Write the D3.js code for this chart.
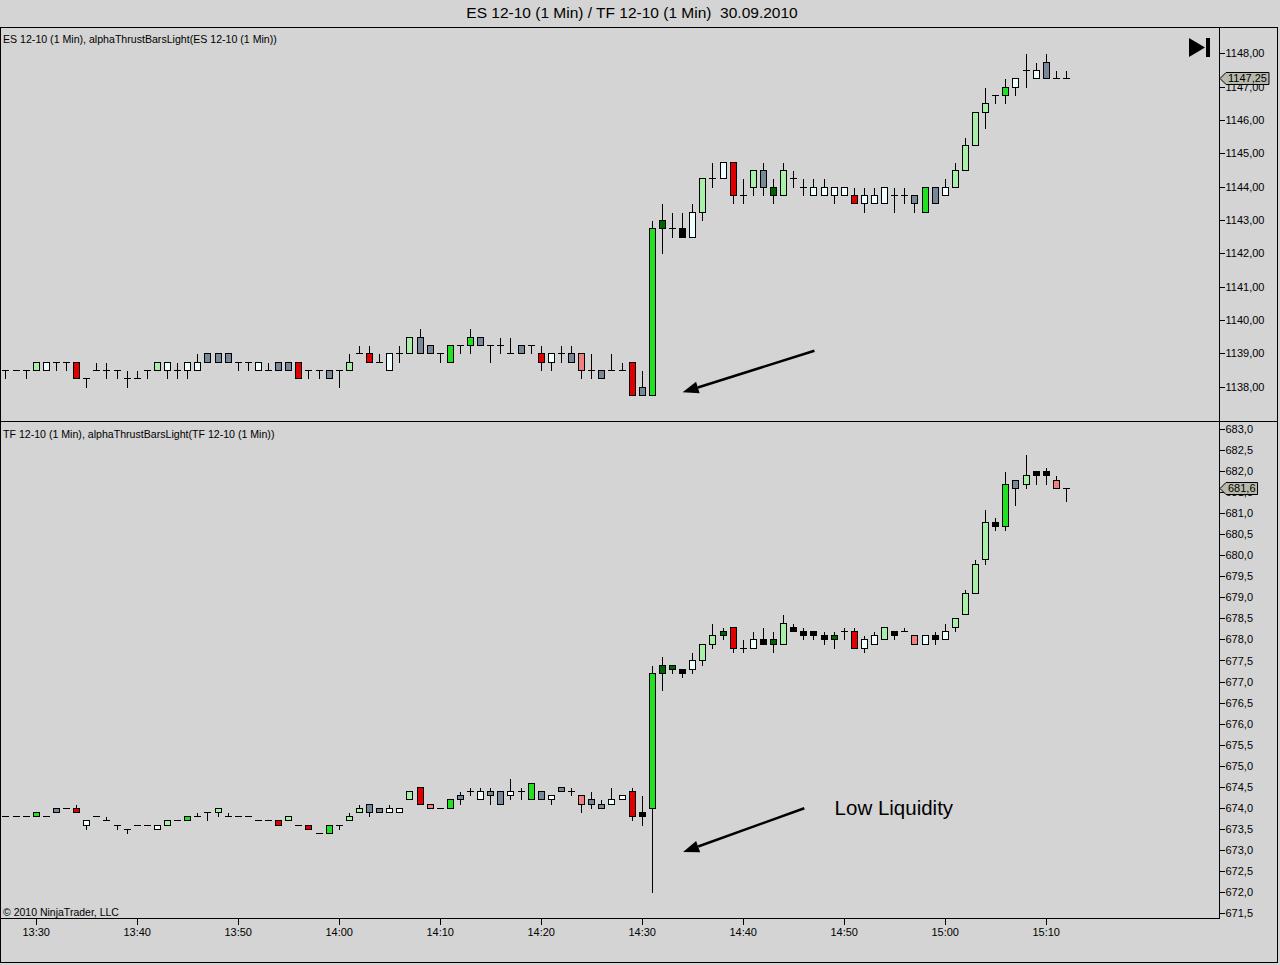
<!DOCTYPE html>
<html>
<head>
<meta charset="utf-8">
<script src="https://cdn.jsdelivr.net/npm/d3@7"></script>
<style>
  html, body { margin: 0; padding: 0; background: #d4d4d4; }
  svg { display: block; font-family: "Liberation Sans", Arial, sans-serif; }
</style>
</head>
<body>
<div id="chart"></div>
<script>
// minute bars, 13:27 .. 15:12
const minutes = [
  "13:27","13:28","13:29",
  "13:30","13:31","13:32","13:33","13:34","13:35","13:36","13:37","13:38","13:39",
  "13:40","13:41","13:42","13:43","13:44","13:45","13:46","13:47","13:48","13:49",
  "13:50","13:51","13:52","13:53","13:54","13:55","13:56","13:57","13:58","13:59",
  "14:00","14:01","14:02","14:03","14:04","14:05","14:06","14:07","14:08","14:09",
  "14:10","14:11","14:12","14:13","14:14","14:15","14:16","14:17","14:18","14:19",
  "14:20","14:21","14:22","14:23","14:24","14:25","14:26","14:27","14:28","14:29",
  "14:30","14:31","14:32","14:33","14:34","14:35","14:36","14:37","14:38","14:39",
  "14:40","14:41","14:42","14:43","14:44","14:45","14:46","14:47","14:48","14:49",
  "14:50","14:51","14:52","14:53","14:54","14:55","14:56","14:57","14:58","14:59",
  "15:00","15:01","15:02","15:03","15:04","15:05","15:06","15:07","15:08","15:09",
  "15:10","15:11","15:12"
];

// [open, high, low, close, thrust state]   state "-" = doji (drawn as a line)
const esBars = [
  [1138.5,1138.5,1138.25,1138.5,"-"],[1138.5,1138.5,1138.5,1138.5,"-"],[1138.5,1138.5,1138.25,1138.5,"-"],
  [1138.5,1138.75,1138.5,1138.75,"L"],[1138.5,1138.75,1138.5,1138.75,"W"],[1138.75,1138.75,1138.5,1138.75,"-"],
  [1138.75,1138.75,1138.5,1138.75,"-"],[1138.75,1138.75,1138.25,1138.25,"R"],[1138.25,1138.25,1138.0,1138.25,"-"],
  [1138.5,1138.75,1138.5,1138.5,"-"],[1138.5,1138.75,1138.25,1138.5,"-"],[1138.5,1138.5,1138.25,1138.5,"-"],
  [1138.25,1138.5,1138.0,1138.25,"-"],[1138.25,1138.5,1138.25,1138.25,"-"],[1138.5,1138.5,1138.25,1138.5,"-"],
  [1138.5,1138.75,1138.5,1138.75,"L"],[1138.5,1138.75,1138.25,1138.75,"W"],[1138.5,1138.75,1138.25,1138.5,"-"],
  [1138.5,1138.75,1138.25,1138.75,"W"],[1138.5,1139.0,1138.5,1138.75,"W"],[1138.75,1139.0,1138.75,1139.0,"S"],
  [1138.75,1139.0,1138.75,1139.0,"S"],[1139.0,1139.0,1138.75,1138.75,"S"],[1138.75,1138.75,1138.5,1138.75,"-"],
  [1138.75,1138.75,1138.5,1138.75,"-"],[1138.5,1138.75,1138.5,1138.75,"W"],[1138.5,1138.75,1138.5,1138.5,"-"],
  [1138.75,1138.75,1138.5,1138.5,"S"],[1138.75,1138.75,1138.5,1138.5,"S"],[1138.75,1138.75,1138.25,1138.25,"R"],
  [1138.5,1138.5,1138.25,1138.5,"-"],[1138.5,1138.5,1138.25,1138.5,"-"],[1138.5,1138.5,1138.25,1138.25,"S"],
  [1138.5,1138.5,1138.0,1138.5,"-"],[1138.5,1139.0,1138.5,1138.75,"L"],[1139.0,1139.25,1139.0,1139.0,"-"],
  [1139.0,1139.25,1138.75,1138.75,"R"],[1138.75,1139.0,1138.75,1138.75,"-"],[1138.5,1139.0,1138.5,1139.0,"W"],
  [1139.0,1139.25,1138.75,1139.0,"-"],[1139.0,1139.5,1139.0,1139.5,"L"],[1139.5,1139.75,1139.0,1139.0,"S"],
  [1139.25,1139.25,1139.0,1139.0,"S"],[1139.0,1139.0,1138.75,1139.0,"-"],[1138.75,1139.25,1138.75,1139.25,"G"],
  [1139.25,1139.25,1139.0,1139.25,"-"],[1139.25,1139.75,1139.0,1139.5,"G"],[1139.5,1139.5,1139.25,1139.25,"S"],
  [1139.25,1139.25,1138.75,1139.25,"-"],[1139.25,1139.5,1139.0,1139.25,"-"],[1139.0,1139.5,1139.0,1139.0,"-"],
  [1139.25,1139.25,1139.0,1139.0,"S"],[1139.25,1139.25,1139.0,1139.25,"-"],[1139.0,1139.25,1138.5,1138.75,"R"],
  [1138.75,1139.0,1138.5,1139.0,"W"],[1139.0,1139.25,1138.75,1139.0,"-"],[1139.0,1139.25,1138.75,1138.75,"S"],
  [1139.0,1139.0,1138.25,1138.5,"P"],[1138.5,1139.0,1138.25,1138.5,"-"],[1138.5,1138.5,1138.25,1138.25,"S"],
  [1138.5,1139.0,1138.5,1138.5,"-"],[1138.5,1138.75,1138.5,1138.5,"-"],[1138.75,1138.75,1137.75,1137.75,"R"],
  [1138.0,1138.5,1137.75,1137.75,"S"],[1137.75,1143.0,1137.75,1142.75,"G"],[1142.75,1143.5,1142.0,1143.0,"D"],
  [1142.75,1143.25,1142.5,1142.75,"-"],[1142.75,1143.25,1142.5,1142.5,"K"],[1142.5,1143.5,1142.5,1143.25,"W"],
  [1143.25,1144.25,1143.0,1144.25,"L"],[1144.25,1144.75,1144.0,1144.25,"-"],[1144.25,1144.75,1144.25,1144.75,"W"],
  [1144.75,1144.75,1143.5,1143.75,"R"],[1143.75,1144.25,1143.5,1143.75,"-"],[1144.0,1144.5,1143.75,1144.5,"L"],
  [1144.5,1144.75,1143.75,1144.0,"S"],[1143.75,1144.25,1143.5,1144.0,"D"],[1143.75,1144.75,1143.75,1144.5,"L"],
  [1144.25,1144.5,1144.0,1144.25,"-"],[1144.0,1144.25,1143.75,1144.0,"-"],[1143.75,1144.25,1143.75,1144.0,"W"],
  [1143.75,1144.25,1143.75,1144.0,"W"],[1143.75,1144.0,1143.5,1144.0,"W"],[1143.75,1144.0,1143.75,1144.0,"W"],
  [1143.75,1144.0,1143.5,1143.5,"R"],[1143.5,1144.0,1143.25,1143.75,"W"],[1143.5,1144.0,1143.5,1143.75,"W"],
  [1143.5,1144.0,1143.5,1144.0,"W"],[1143.75,1144.0,1143.25,1143.75,"-"],[1143.75,1144.0,1143.5,1143.75,"-"],
  [1143.75,1143.75,1143.25,1143.5,"S"],[1143.25,1144.0,1143.25,1144.0,"G"],[1144.0,1144.0,1143.5,1143.5,"S"],
  [1143.75,1144.25,1143.75,1144.0,"W"],[1144.0,1144.75,1144.0,1144.5,"L"],[1144.5,1145.5,1144.5,1145.25,"L"],
  [1145.25,1146.25,1145.25,1146.25,"L"],[1146.25,1147.0,1145.75,1146.5,"L"],[1146.75,1146.75,1146.5,1146.75,"-"],
  [1146.75,1147.25,1146.5,1147.0,"G"],[1147.0,1147.25,1146.75,1147.25,"W"],[1147.5,1148.0,1147.0,1147.5,"-"],
  [1147.25,1147.75,1147.25,1147.5,"W"],[1147.75,1148.0,1147.25,1147.25,"S"],[1147.25,1147.5,1147.25,1147.25,"-"],
  [1147.25,1147.5,1147.25,1147.25,"-"]
];

const tfBars = [
  [673.8,673.8,673.8,673.8,"-"],[673.8,673.8,673.8,673.8,"-"],[673.8,673.8,673.8,673.8,"-"],
  [673.8,673.9,673.8,673.9,"G"],[673.8,673.8,673.8,673.8,"-"],[674.0,674.0,673.9,673.9,"S"],
  [674.0,674.0,674.0,674.0,"-"],[674.0,674.1,673.9,673.9,"R"],[673.7,673.7,673.5,673.6,"W"],
  [673.8,673.8,673.8,673.8,"-"],[673.7,673.8,673.7,673.7,"-"],[673.6,673.6,673.5,673.6,"-"],
  [673.5,673.5,673.4,673.5,"-"],[673.6,673.6,673.6,673.6,"-"],[673.6,673.6,673.6,673.6,"-"],
  [673.5,673.6,673.5,673.6,"W"],[673.6,673.7,673.6,673.7,"L"],[673.7,673.7,673.7,673.7,"-"],
  [673.7,673.8,673.7,673.8,"G"],[673.8,673.9,673.8,673.8,"-"],[673.9,673.9,673.7,673.9,"-"],
  [673.9,674.0,673.8,674.0,"L"],[673.8,673.9,673.8,673.8,"-"],[673.8,673.8,673.8,673.8,"-"],
  [673.8,673.8,673.8,673.8,"-"],[673.7,673.7,673.7,673.7,"-"],[673.7,673.7,673.7,673.7,"-"],
  [673.7,673.7,673.6,673.6,"R"],[673.7,673.8,673.7,673.8,"L"],[673.6,673.6,673.6,673.6,"-"],
  [673.6,673.6,673.5,673.5,"R"],[673.4,673.4,673.4,673.4,"-"],[673.4,673.6,673.4,673.6,"G"],
  [673.6,673.6,673.5,673.6,"-"],[673.7,673.9,673.7,673.8,"L"],[673.9,674.1,673.9,674.0,"L"],
  [674.1,674.1,673.8,673.9,"S"],[674.0,674.0,673.9,673.9,"S"],[673.9,674.1,673.9,674.0,"W"],
  [673.9,674.0,673.9,674.0,"W"],[674.2,674.4,674.2,674.4,"L"],[674.5,674.5,674.1,674.1,"R"],
  [674.1,674.1,674.0,674.0,"P"],[674.0,674.0,674.0,674.0,"-"],[674.0,674.2,674.0,674.2,"G"],
  [674.3,674.4,674.1,674.2,"S"],[674.4,674.5,674.3,674.4,"-"],[674.2,674.5,674.2,674.4,"W"],
  [674.4,674.5,674.1,674.3,"S"],[674.4,674.4,674.1,674.1,"S"],[674.3,674.7,674.2,674.4,"W"],
  [674.4,674.5,674.2,674.4,"-"],[674.2,674.6,674.2,674.6,"G"],[674.4,674.4,674.2,674.2,"S"],
  [674.2,674.3,674.1,674.3,"W"],[674.5,674.5,674.4,674.4,"S"],[674.4,674.5,674.3,674.4,"-"],
  [674.3,674.3,673.9,674.1,"P"],[674.2,674.4,674.0,674.1,"S"],[674.1,674.2,674.0,674.0,"S"],
  [674.1,674.5,674.1,674.2,"W"],[674.2,674.3,674.2,674.3,"W"],[674.4,674.5,673.7,673.8,"R"],
  [673.9,674.3,673.6,673.8,"K"],[674.0,677.4,672.0,677.2,"G"],[677.2,677.6,676.8,677.4,"D"],
  [677.3,677.4,677.2,677.4,"D"],[677.3,677.3,677.1,677.2,"K"],[677.3,677.7,677.2,677.5,"W"],
  [677.5,677.9,677.4,677.9,"L"],[677.9,678.4,677.8,678.1,"L"],[678.1,678.3,678.0,678.2,"D"],
  [678.3,678.3,677.7,677.8,"R"],[677.8,678.0,677.7,677.8,"-"],[677.8,678.2,677.8,678.0,"W"],
  [678.0,678.3,677.9,677.9,"K"],[677.9,678.2,677.7,678.0,"D"],[677.9,678.6,677.9,678.4,"L"],
  [678.3,678.4,678.2,678.2,"K"],[678.2,678.3,678.0,678.1,"K"],[678.2,678.2,678.0,678.1,"K"],
  [678.1,678.2,677.9,678.0,"K"],[678.0,678.2,677.8,678.1,"D"],[678.2,678.3,678.0,678.2,"-"],
  [678.2,678.3,677.8,677.8,"R"],[677.8,678.1,677.7,678.0,"W"],[677.9,678.2,677.9,678.1,"W"],
  [678.0,678.3,678.0,678.3,"L"],[678.2,678.2,678.0,678.1,"K"],[678.2,678.3,678.2,678.2,"-"],
  [678.1,678.1,677.9,677.9,"P"],[677.9,678.1,677.9,678.1,"W"],[678.1,678.2,677.9,678.0,"K"],
  [678.0,678.4,678.0,678.2,"W"],[678.3,678.5,678.2,678.5,"L"],[678.6,679.2,678.6,679.1,"L"],
  [679.1,679.9,679.1,679.8,"L"],[679.9,681.1,679.8,680.8,"L"],[680.8,680.9,680.6,680.7,"K"],
  [680.7,682.0,680.6,681.7,"G"],[681.8,681.8,681.2,681.6,"S"],[681.7,682.4,681.6,681.9,"L"],
  [681.9,682.0,681.7,682.0,"K"],[681.9,682.1,681.7,682.0,"K"],[681.8,681.9,681.6,681.6,"P"],
  [681.6,681.6,681.3,681.6,"-"]
];

const timeTicks = ["13:30","13:40","13:50","14:00","14:10","14:20","14:30","14:40","14:50","15:00","15:10"];
const esTicks = [1138,1139,1140,1141,1142,1143,1144,1145,1146,1147,1148];
const tfTicks = [671.5,672,672.5,673,673.5,674,674.5,675,675.5,676,676.5,677,677.5,678,678.5,679,679.5,680,680.5,681,681.5,682,682.5,683];
const esLast = 1147.25;
const tfLast = 681.6;

const stateFill = {
  G: "#22e022", L: "#a8f0a8", D: "#006400", W: "#f0ffff",
  S: "#778899", R: "#e00000", P: "#f08080", K: "#000000"
};

const width = 1280, height = 965;
const plotRight = 1219;

const parse = d3.timeParse("%H:%M");
const x = d3.scaleTime().domain([parse("13:30"), parse("15:10")]).range([35.7, 1045.7]);
const yES = d3.scaleLinear().domain([1138, 1148]).range([386.7, 53.3]);
const yTF = d3.scaleLinear().domain([671.5, 683]).range([913, 429]);

const de = d3.formatLocale({decimal: ",", thousands: ".", grouping: [3], currency: ["", ""]});

const svg = d3.select("#chart").append("svg")
    .attr("width", width)
    .attr("height", height);

svg.append("rect").attr("width", width).attr("height", height).attr("fill", "#d4d4d4");

// titre
svg.append("text")
    .attr("x", 632).attr("y", 18)
    .attr("text-anchor", "middle")
    .attr("font-size", 15.5)
    .style("white-space", "pre")
    .text("ES 12-10 (1 Min) / TF 12-10 (1 Min)\u00a0 30.09.2010");

// cadres
const frame = svg.append("g").attr("stroke", "#000").attr("shape-rendering", "crispEdges").attr("fill", "none");
frame.append("rect").attr("x", 0.5).attr("y", 27.5).attr("width", 1277).attr("height", 935);
frame.append("line").attr("x1", 0).attr("x2", 1278).attr("y1", 421.5).attr("y2", 421.5);
frame.append("line").attr("x1", 0).attr("x2", plotRight).attr("y1", 918.5).attr("y2", 918.5);
frame.append("line").attr("x1", plotRight + 0.5).attr("x2", plotRight + 0.5).attr("y1", 27).attr("y2", 919);

function drawPanel(bars, y, fmt, ticks, last, label, top) {
  const g = svg.append("g").attr("shape-rendering", "crispEdges");

  g.append("text")
      .attr("x", 3).attr("y", top + 16)
      .attr("font-size", 10.6)
      .attr("shape-rendering", "auto")
      .text(label);

  const bar = g.selectAll("g.bar")
    .data(bars)
    .join("g")
      .attr("class", "bar")
      .attr("transform", (d, i) => "translate(" + Math.round(x(parse(minutes[i]))) + ",0)");

  // meches
  bar.append("line")
      .attr("x1", 0.5).attr("x2", 0.5)
      .attr("y1", d => Math.round(y(d[1])) + 0.5)
      .attr("y2", d => Math.round(y(d[2])) + 0.5)
      .attr("stroke", "#000");

  // doji
  bar.filter(d => d[4] === "-").append("line")
      .attr("x1", -3).attr("x2", 4)
      .attr("y1", d => Math.round(y(d[3])) + 0.5)
      .attr("y2", d => Math.round(y(d[3])) + 0.5)
      .attr("stroke", "#000");

  // corps
  bar.filter(d => d[4] !== "-").append("rect")
      .attr("x", -2.5).attr("width", 6)
      .attr("y", d => Math.round(y(Math.max(d[0], d[3]))) + 0.5)
      .attr("height", d => Math.max(1, Math.round(y(Math.min(d[0], d[3]))) - Math.round(y(Math.max(d[0], d[3])))))
      .attr("fill", d => stateFill[d[4]])
      .attr("stroke", "#000");

  // axe des prix
  const ax = svg.append("g")
      .attr("transform", "translate(" + (plotRight + 0.5) + ",0)")
      .call(d3.axisRight(y).tickValues(ticks).tickSize(5).tickPadding(1).tickFormat(fmt));
  ax.select(".domain").remove();
  ax.selectAll("line").attr("shape-rendering", "crispEdges");
  ax.selectAll("text").attr("font-size", 11).attr("font-family", "Liberation Sans, Arial, sans-serif").attr("fill", "#000");

  // dernier prix
  const yl = Math.round(y(last)) + 0.5;
  const tag = svg.append("g");
  const t = tag.append("text")
      .attr("x", plotRight + 9).attr("y", yl).attr("dy", "0.35em")
      .attr("font-size", 11)
      .text(fmt(last));
  const tw = t.node().getComputedTextLength();
  tag.insert("path", "text")
      .attr("d", "M" + (plotRight + 1) + "," + yl + "L" + (plotRight + 7) + "," + (yl - 6) +
                 "H" + (plotRight + 11 + tw) + "V" + (yl + 6) + "H" + (plotRight + 7) + "Z")
      .attr("fill", "#b9b9ab")
      .attr("stroke", "#000");
}

drawPanel(esBars, yES, de.format(".2f"), esTicks, esLast,
  "ES 12-10 (1 Min), alphaThrustBarsLight(ES 12-10 (1 Min))", 27);
drawPanel(tfBars, yTF, de.format(".1f"), tfTicks, tfLast,
  "TF 12-10 (1 Min), alphaThrustBarsLight(TF 12-10 (1 Min))", 422);

// axe du temps
const xa = svg.append("g")
    .attr("transform", "translate(0,918.5)")
    .call(d3.axisBottom(x).tickValues(timeTicks.map(parse)).tickSize(6).tickPadding(4).tickFormat(d3.timeFormat("%H:%M")));
xa.select(".domain").remove();
xa.selectAll("line").attr("shape-rendering", "crispEdges");
xa.selectAll("text").attr("font-size", 11).attr("font-family", "Liberation Sans, Arial, sans-serif").attr("fill", "#000");

svg.append("text")
    .attr("x", 3).attr("y", 916)
    .attr("font-size", 10.5)
    .text("\u00a9 2010 NinjaTrader, LLC");

// bouton fin de graphique
svg.append("path").attr("d", "M1189,38L1205,47.5L1189,57Z").attr("fill", "#000");
svg.append("rect").attr("x", 1206).attr("y", 38).attr("width", 4).attr("height", 19).attr("fill", "#000");

// fleches
function arrow(x1, y1, x2, y2) {
  const a = Math.atan2(y2 - y1, x2 - x1);
  const len = 16, hw = 6;
  const bx = x2 - len * Math.cos(a), by = y2 - len * Math.sin(a);
  svg.append("line")
      .attr("x1", x1).attr("y1", y1).attr("x2", bx).attr("y2", by)
      .attr("stroke", "#000").attr("stroke-width", 2.5);
  svg.append("path")
      .attr("d", "M" + x2 + "," + y2 +
                 "L" + (bx + hw * Math.sin(a)) + "," + (by - hw * Math.cos(a)) +
                 "L" + (bx - hw * Math.sin(a)) + "," + (by + hw * Math.cos(a)) + "Z")
      .attr("fill", "#000");
}
arrow(x(parse("14:47")) + 1, yES(1139.08), x(parse("14:34")) + 0.5, yES(1137.83));
arrow(x(parse("14:46")) + 1, yTF(673.99), x(parse("14:34")) + 1, yTF(672.95));

svg.append("text")
    .attr("x", x(parse("14:49")) + 1).attr("y", yTF(674.0)).attr("dy", "0.35em")
    .attr("font-size", 20.5)
    .text("Low Liquidity");
</script>
</body>
</html>
